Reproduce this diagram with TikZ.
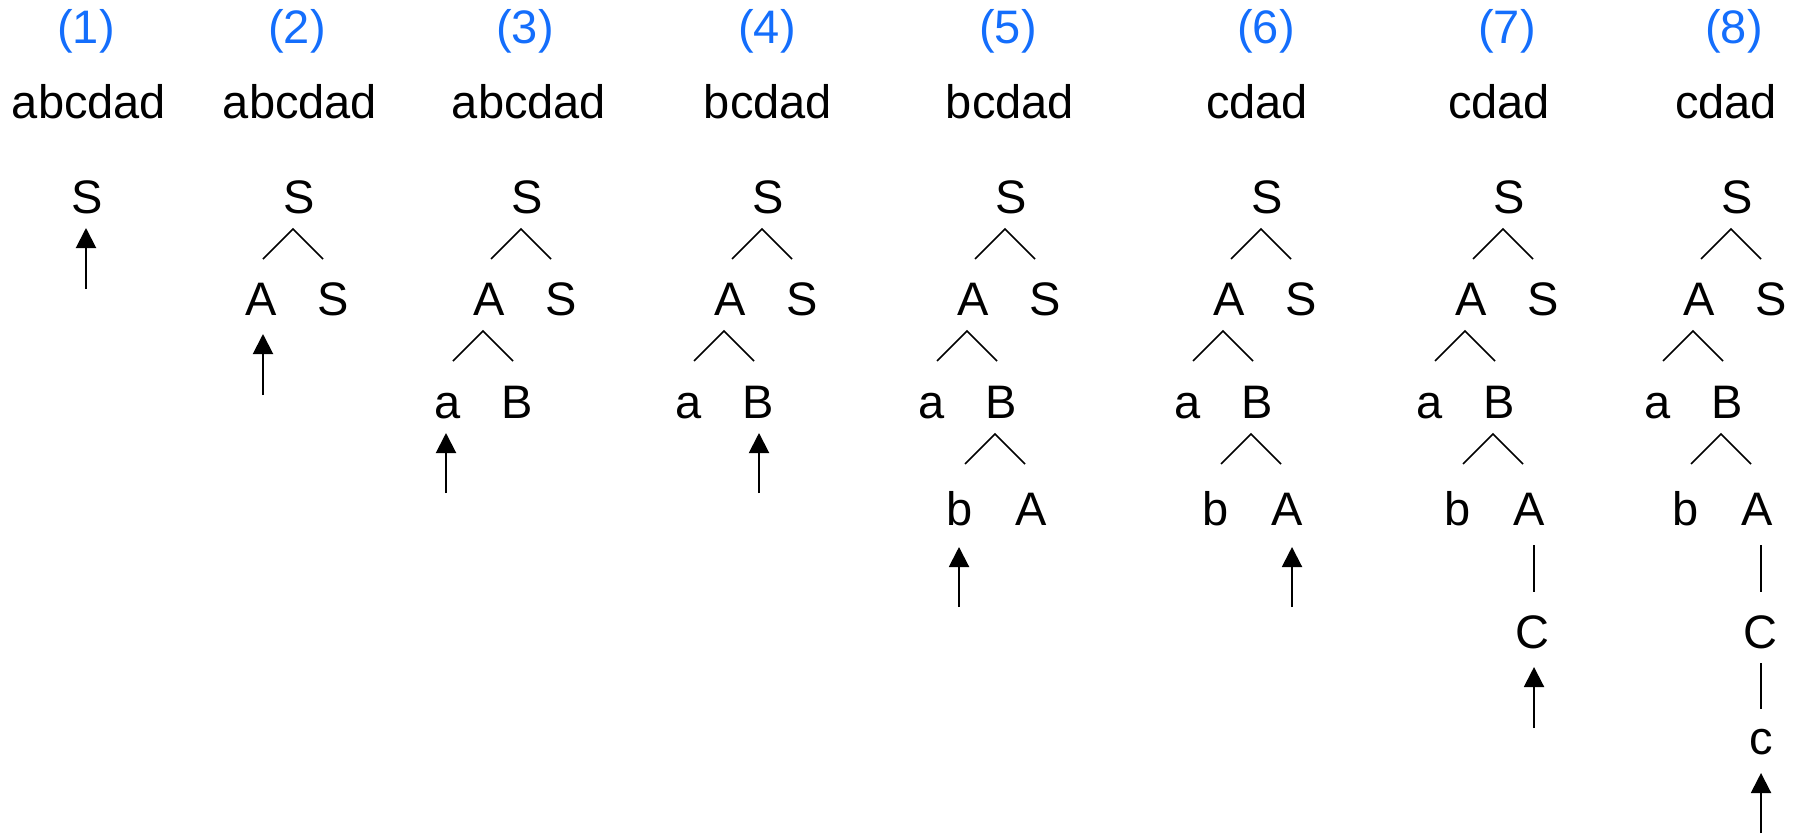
\documentclass[tikz,border=0pt]{standalone}
\usepackage{fontspec}
\setmainfont{Liberation Sans}
\usetikzlibrary{arrows.meta,calc}
\definecolor{stepblue}{RGB}{20,110,252}
\newcommand{\mychev}[1]{\draw[br] ([shift={(-36,46)}]#1.base) -- ([shift={(-6,16)}]#1.base) -- ([shift={(24,46)}]#1.base);}
\begin{document}
\begin{tikzpicture}[x=0.4pt,y=-0.4pt,
  sym/.style={inner sep=0pt, anchor=base, font=\fontsize{18.8}{22}\selectfont},
  num/.style={sym, text=stepblue},
  br/.style={line width=0.6pt},
  arr/.style={line width=0.8pt, -{Triangle[width=8pt,length=8pt]}},
]
\useasboundingbox (0,0) rectangle (1798,834);
% labels
\foreach \n/\lx/\sx/\str in {1/86/89/abcdad, 2/297/300/abcdad, 3/525/529/abcdad, 4/767/768/bcdad, 5/1008/1010/bcdad, 6/1266/1257/cdad, 7/1507/1499/cdad, 8/1734/1726/cdad}{
  \node[num] (n\n) at (\lx,43) {(\n)};
  \node[sym] (w\n) at (\sx,118) {\str};
}
% tree 1
\node[sym] (r1) at (87,213) {S};
% tree 2
\node[sym] (r2) at (299,213) {S};
\node[sym] (A2) at (261,315) {A};
\node[sym] (S2) at (333,315) {S};
\mychev{r2}
% tree 3
\node[sym] (r3) at (527,213) {S};
\node[sym] (A3) at (489,315) {A};
\node[sym] (S3) at (561,315) {S};
\node[sym] (a3) at (448,418) {a};
\node[sym] (B3) at (517,418) {B};
\mychev{r3}\mychev{A3}
% tree 4
\node[sym] (r4) at (768,213) {S};
\node[sym] (A4) at (730,315) {A};
\node[sym] (S4) at (802,315) {S};
\node[sym] (a4) at (689,418) {a};
\node[sym] (B4) at (758,418) {B};
\mychev{r4}\mychev{A4}
% tree 5
\node[sym] (r5) at (1011,213) {S};
\node[sym] (A5) at (973,315) {A};
\node[sym] (S5) at (1045,315) {S};
\node[sym] (a5) at (932,418) {a};
\node[sym] (B5) at (1001,418) {B};
\node[sym] (b5) at (960,525) {b};
\node[sym] (AA5) at (1031,525) {A};
\mychev{r5}\mychev{A5}\mychev{B5}
% tree 6
\node[sym] (r6) at (1267,213) {S};
\node[sym] (A6) at (1229,315) {A};
\node[sym] (S6) at (1301,315) {S};
\node[sym] (a6) at (1188,418) {a};
\node[sym] (B6) at (1257,418) {B};
\node[sym] (b6) at (1216,525) {b};
\node[sym] (AA6) at (1287,525) {A};
\mychev{r6}\mychev{A6}\mychev{B6}
% tree 7
\node[sym] (r7) at (1509,213) {S};
\node[sym] (A7) at (1471,315) {A};
\node[sym] (S7) at (1543,315) {S};
\node[sym] (a7) at (1430,418) {a};
\node[sym] (B7) at (1499,418) {B};
\node[sym] (b7) at (1458,525) {b};
\node[sym] (AA7) at (1529,525) {A};
\node[sym] (C7) at (1532,648) {C};
\mychev{r7}\mychev{A7}\mychev{B7}
\draw[br] ($(C7.base |- AA7.base)+(2,20)$) -- ($(C7.base)+(2,-56)$);
% tree 8
\node[sym] (r8) at (1737,213) {S};
\node[sym] (A8) at (1699,315) {A};
\node[sym] (S8) at (1771,315) {S};
\node[sym] (a8) at (1658,418) {a};
\node[sym] (B8) at (1727,418) {B};
\node[sym] (b8) at (1686,525) {b};
\node[sym] (AA8) at (1757,525) {A};
\node[sym] (C8) at (1760,648) {C};
\node[sym] (c8) at (1761,754) {c};
\mychev{r8}\mychev{A8}\mychev{B8}
\draw[br] ($(C8.base |- AA8.base)+(1,20)$) -- ($(C8.base)+(1,-56)$);
\draw[br] ($(c8.base |- C8.base)+(0,15)$) -- ($(c8.base)+(0,-45)$);
% pointers
\coordinate (e1) at (86,289);
\coordinate (e2) at (263,395);
\coordinate (e3) at (446,493);
\coordinate (e4) at (759,493);
\coordinate (e5) at (959,607);
\coordinate (e6) at (1292,607);
\coordinate (e7) at (1534,728);
\coordinate (e8) at (1761,833);
\draw[arr, shorten >=6pt] (e1) -- (e1 |- r1.base);
\draw[arr, shorten >=7.6pt] (e2) -- (e2 |- A2.base);
\draw[arr, shorten >=6pt] (e3) -- (e3 |- a3.base);
\draw[arr, shorten >=6pt] (e4) -- (e4 |- B4.base);
\draw[arr, shorten >=8.8pt] (e5) -- (e5 |- b5.base);
\draw[arr, shorten >=8.8pt] (e6) -- (e6 |- AA6.base);
\draw[arr, shorten >=7.6pt] (e7) -- (e7 |- C7.base);
\draw[arr, shorten >=7.6pt] (e8) -- (e8 |- c8.base);
\end{tikzpicture}
\end{document}
